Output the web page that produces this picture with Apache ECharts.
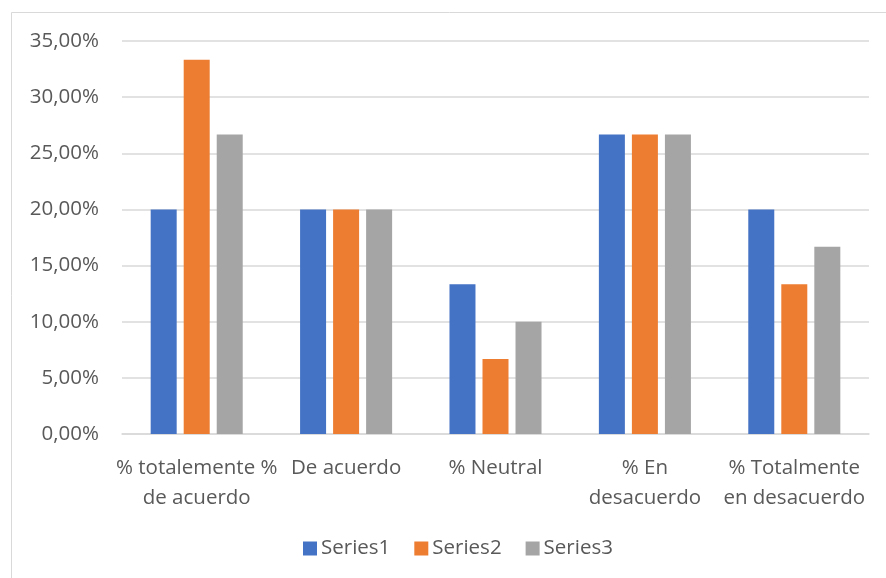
<!DOCTYPE html>
<html>
<head>
<meta charset="utf-8">
<script src="https://cdn.jsdelivr.net/npm/echarts@6/dist/echarts.min.js"></script>
<style>
  html, body { margin: 0; padding: 0; background: #fff; }
  #chart { width: 886px; height: 578px; }
</style>
</head>
<body>
<div id="chart"></div>
<script>
// Response categories (line breaks follow the wrapped axis labels)
const categories = [
  '% totalemente %\nde acuerdo',
  'De acuerdo',
  '% Neutral',
  '% En\ndesacuerdo',
  '% Totalmente\nen desacuerdo'
];
const seriesNames = ['Series1', 'Series2', 'Series3'];
const series1 = [20.00, 20.00, 13.33, 26.67, 20.00];
const series2 = [33.33, 20.00, 6.67, 26.67, 13.33];
const series3 = [26.67, 20.00, 10.00, 26.67, 16.67];
const colors = ['#4472C4', '#ED7D31', '#A5A5A5'];

const FONT = '"Open Sans", "Liberation Sans", sans-serif';
const FONT_SIZE = 20.5;
const TEXT = '#595959';
const GRID = '#D9D9D9';

const fmtPct = v => v.toFixed(2).replace('.', ',') + '%';

const chart = echarts.init(document.getElementById('chart'), null, { renderer: 'canvas' });

const makeBar = (name, data, color) => ({
  name: name,
  type: 'bar',
  data: data,
  barWidth: 26,
  barGap: '27%',
  itemStyle: { color: color },
  emphasis: { disabled: true }
});

chart.setOption({
  animation: false,
  backgroundColor: '#fff',
  textStyle: { fontFamily: FONT, color: TEXT },
  graphic: [{
    type: 'rect',
    shape: { x: 11.5, y: 12.5, width: 900, height: 600 },
    style: { fill: 'none', stroke: GRID, lineWidth: 1 },
    silent: true,
    z: -10
  }],
  grid: { left: 122, right: 17, top: 41, bottom: 144 },
  legend: {
    data: seriesNames,
    bottom: 14,
    left: 298,
    icon: 'rect',
    itemWidth: 14,
    itemHeight: 14,
    itemGap: 24,
    textStyle: { fontFamily: FONT, fontSize: FONT_SIZE, color: TEXT, padding: [0, 0, 0, -1] }
  },
  xAxis: {
    type: 'category',
    data: categories,
    axisLine: { show: true, lineStyle: { color: GRID, width: 1.5 } },
    axisTick: { show: false },
    axisLabel: {
      interval: 0,
      margin: 19,
      fontFamily: FONT,
      fontSize: FONT_SIZE,
      color: TEXT,
      lineHeight: 30
    }
  },
  yAxis: {
    type: 'value',
    min: 0,
    max: 35,
    interval: 5,
    axisLine: { show: false },
    axisTick: { show: false },
    splitLine: { lineStyle: { color: GRID, width: 1.5 } },
    axisLabel: {
      margin: 23,
      fontFamily: FONT,
      fontSize: FONT_SIZE,
      color: TEXT,
      formatter: fmtPct
    }
  },
  series: [
    makeBar(seriesNames[0], series1, colors[0]),
    makeBar(seriesNames[1], series2, colors[1]),
    makeBar(seriesNames[2], series3, colors[2])
  ]
});
</script>
</body>
</html>
